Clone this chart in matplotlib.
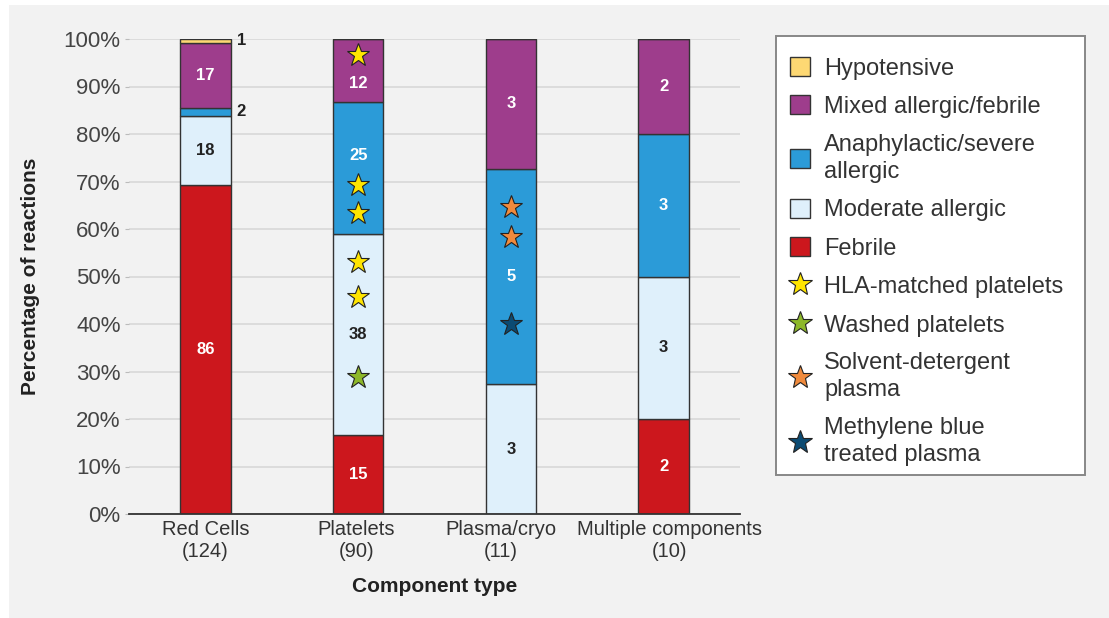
import matplotlib
matplotlib.use("Agg")
import matplotlib.pyplot as plt
from matplotlib.patches import Rectangle, Patch
from matplotlib.lines import Line2D
from matplotlib.transforms import offset_copy
import numpy as np

plt.rcParams['font.family'] = ['Liberation Sans', 'DejaVu Sans']

# ---------------- data ----------------
categories = ["Red Cells\n(124)", "Platelets\n(90)", "Plasma/cryo\n(11)", "Multiple components\n(10)"]
series_names = ["Febrile", "Moderate allergic", "Anaphylactic/severe\nallergic",
                "Mixed allergic/febrile", "Hypotensive"]
febrile      = [86, 15, 0, 2]
moderate     = [18, 38, 3, 3]
anaphylactic = [2, 25, 5, 3]
mixed        = [17, 12, 3, 2]
hypotensive  = [1, 0, 0, 0]

series_colors = ["#CC171D", "#DFF0FB", "#2B9BD8", "#9E3D8C", "#FDD873"]
label_colors = ["white", "#222222", "white", "white", "#222222"]

# star annotations (category index, percentage height, type)
star_names = ["HLA-matched platelets", "Washed platelets",
              "Solvent-detergent\nplasma", "Methylene blue\ntreated plasma"]
star_colors = ["#FFE500", "#8DB82A", "#F08A3C", "#0B4B73"]
star_cat  = [1, 1, 1, 1, 1, 1, 2, 2, 2]
star_pct  = [96.6, 69.3, 63.4, 53.0, 45.7, 28.8, 64.7, 58.3, 40.0]
star_type = [0, 0, 0, 0, 0, 1, 2, 2, 3]

# ---------------- figure ----------------
W, H = 1109, 618
fig = plt.figure(figsize=(W / 100, H / 100), dpi=100)
fig.patch.set_facecolor("white")
fig.patches.append(Rectangle((9 / W, 0), 1 - 9 / W, (H - 5) / H,
                             transform=fig.transFigure, facecolor="#F2F2F2",
                             edgecolor="none", zorder=-10))

ax = fig.add_axes([129 / W, (H - 514) / H, (740 - 129) / W, (514 - 39) / H])
ax.set_facecolor("none")

data = np.array([febrile, moderate, anaphylactic, mixed, hypotensive], dtype=float)
totals = data.sum(axis=0)
pct = data / totals * 100
x = np.arange(len(categories))
bw = 0.33

bottom = np.zeros(len(categories))
for i, name in enumerate(series_names):
    ax.bar(x, pct[i], bw, bottom=bottom, color=series_colors[i],
           edgecolor="#333333", linewidth=1.0, zorder=3)
    for j in range(len(categories)):
        v = data[i, j]
        if v <= 0:
            continue
        center = bottom[j] + pct[i, j] / 2
        if pct[i, j] < 3:
            ax.text(x[j] + bw / 2 + 0.04, center, f"{int(v)}", ha="left", va="center",
                    fontsize=12, color="#222222", fontweight="bold", zorder=5,
                    clip_on=False)
        else:
            off = 0
            if j == 1 and i == 3:
                off = -2.6
            if j == 1 and i == 2:
                off = 2.6
            ax.text(x[j], center + off, f"{int(v)}", ha="center", va="center",
                    fontsize=12, color=label_colors[i], fontweight="bold", zorder=5)
    bottom += pct[i]

for c, p, t in zip(star_cat, star_pct, star_type):
    ax.plot(x[c], p, marker="*", markersize=17, color=star_colors[t],
            markeredgecolor="#222222", markeredgewidth=0.8, zorder=6, linestyle="none")

ax.set_xlim(-0.5, 3.5)
ax.set_ylim(0, 100)
ax.set_yticks(np.arange(0, 101, 10))
ax.set_yticklabels([f"{v}%" for v in range(0, 101, 10)])
ax.set_xticks(x)
ax.set_xticklabels([])
# category labels (slightly nudged apart like the original)
nudges = [0, -2, -10, 6]
xt = ax.get_xaxis_transform()
for j, lab in enumerate(categories):
    tr = offset_copy(xt, fig=fig, x=nudges[j], y=-6, units="dots")
    ax.text(x[j], 0, lab, transform=tr, ha="center", va="top", fontsize=14.5,
            color="#333333", linespacing=1.2)

ax.grid(axis="y", color="#DCDCDC", linewidth=1.4, zorder=0)
ax.set_axisbelow(True)
for s in ["top", "right", "left"]:
    ax.spines[s].set_visible(False)
ax.spines["bottom"].set_color("#333333")
ax.spines["bottom"].set_linewidth(1.3)
ax.spines["bottom"].set_zorder(4)
ax.tick_params(axis="y", length=3, color="#BBBBBB", labelsize=16, labelcolor="#444444", pad=3)
ax.tick_params(axis="x", length=0)

ax.set_ylabel("Percentage of reactions", fontsize=15, color="#222222", fontweight="bold")
ax.yaxis.set_label_coords(-0.146, 0.5)
ax.text(0.5, 0, "Component type", transform=offset_copy(ax.transAxes, fig=fig, y=-73, units="dots"),
        ha="center", va="center", fontsize=15, color="#222222", fontweight="bold")

# ---------------- legend ----------------
# legend frame drawn as a plain box
fig.patches.append(Rectangle((776 / W, (H - 475) / H), (1085 - 776) / W, (475 - 36) / H,
                             transform=fig.transFigure, facecolor="white",
                             edgecolor="#888888", linewidth=1.4, zorder=1))

leg_order = [4, 3, 2, 1, 0]
handles = [Patch(facecolor=series_colors[i], edgecolor="#333333", linewidth=1.0)
           for i in leg_order]
labels = [series_names[i] for i in leg_order]
for k, nm in enumerate(star_names):
    handles.append(Line2D([], [], marker="*", markersize=18, color=star_colors[k],
                          markeredgecolor="#222222", markeredgewidth=0.8, linestyle="none"))
    labels.append(nm)

leg = fig.legend(handles, labels, loc="upper left",
                 bbox_to_anchor=(790 / W, (H - 57) / H), bbox_transform=fig.transFigure,
                 fontsize=17, frameon=False, borderpad=0,
                 handlelength=0.85, handleheight=0.85, handletextpad=0.6,
                 labelspacing=0.67, borderaxespad=0)
leg.set_zorder(5)
for t in leg.get_texts():
    t.set_color("#333333")
    t.set_linespacing(1.3)

fig.savefig("out.png", dpi=100, facecolor=fig.get_facecolor())
